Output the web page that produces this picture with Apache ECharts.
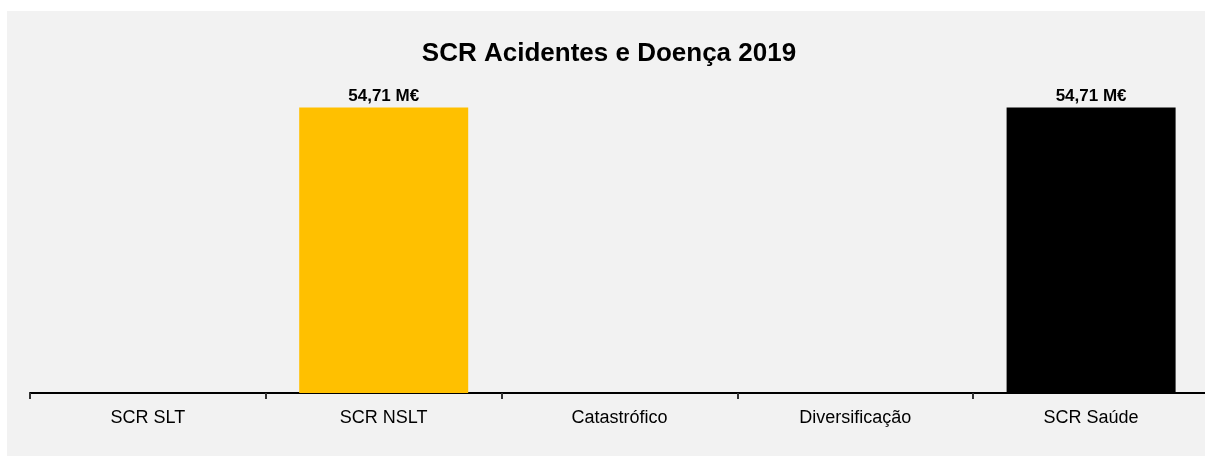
<!DOCTYPE html>
<html>
<head>
<meta charset="utf-8">
<script src="https://cdn.jsdelivr.net/npm/echarts@6/dist/echarts.min.js"></script>
<style>
  html, body { margin: 0; padding: 0; background: #ffffff; overflow: hidden; width: 1205px; height: 457px; }
  #panel { position: absolute; left: 7px; top: 11px; width: 1198px; height: 445px; background: #f2f2f2; }
  #chart { position: absolute; left: 0; top: 0; width: 1220px; height: 457px; }
</style>
</head>
<body>
<div id="panel"></div>
<div id="chart"></div>
<script>
const titleText = 'SCR Acidentes e Doença 2019';
const categories = ['SCR SLT', 'SCR NSLT', 'Catastrófico', 'Diversificação', 'SCR Saúde'];
const values = [0, 54.71, 0, 0, 54.71];
const barColors = ['#FFC000', '#FFC000', '#FFC000', '#FFC000', '#000000'];
const unit = ' M€';

const FONT = '"Liberation Sans Narrow", "Arial Narrow", "Liberation Sans", Arial, sans-serif';
const chart = echarts.init(document.getElementById('chart'), null, { renderer: 'canvas' });
chart.setOption({
  backgroundColor: 'transparent',
  animation: false,
  title: {
    text: titleText,
    left: 604,
    textAlign: 'center',
    top: 36,
    textStyle: { fontFamily: FONT, fontSize: 26, fontWeight: 'bold', color: '#000' }
  },
  grid: { left: 30, right: 11, top: 80, bottom: 64, containLabel: false },
  xAxis: {
    type: 'category',
    data: categories,
    axisLine: { lineStyle: { color: '#000', width: 2 } },
    axisTick: { show: true, length: 6, lineStyle: { color: '#333', width: 2 } },
    axisLabel: { fontFamily: FONT, fontSize: 18, color: '#000', margin: 16 }
  },
  yAxis: {
    type: 'value',
    min: 0,
    max: 60,
    show: false,
    splitLine: { show: false }
  },
  series: [{
    type: 'bar',
    barWidth: 169,
    data: values.map((v, i) => ({ value: v, itemStyle: { color: barColors[i] } })),
    label: {
      show: true,
      position: 'top',
      distance: 3,
      fontFamily: FONT,
      fontSize: 17,
      fontWeight: 'bold',
      color: '#000',
      formatter: p => p.value ? p.value.toFixed(2).replace('.', ',') + unit : ''
    }
  }]
});
</script>
</body>
</html>
